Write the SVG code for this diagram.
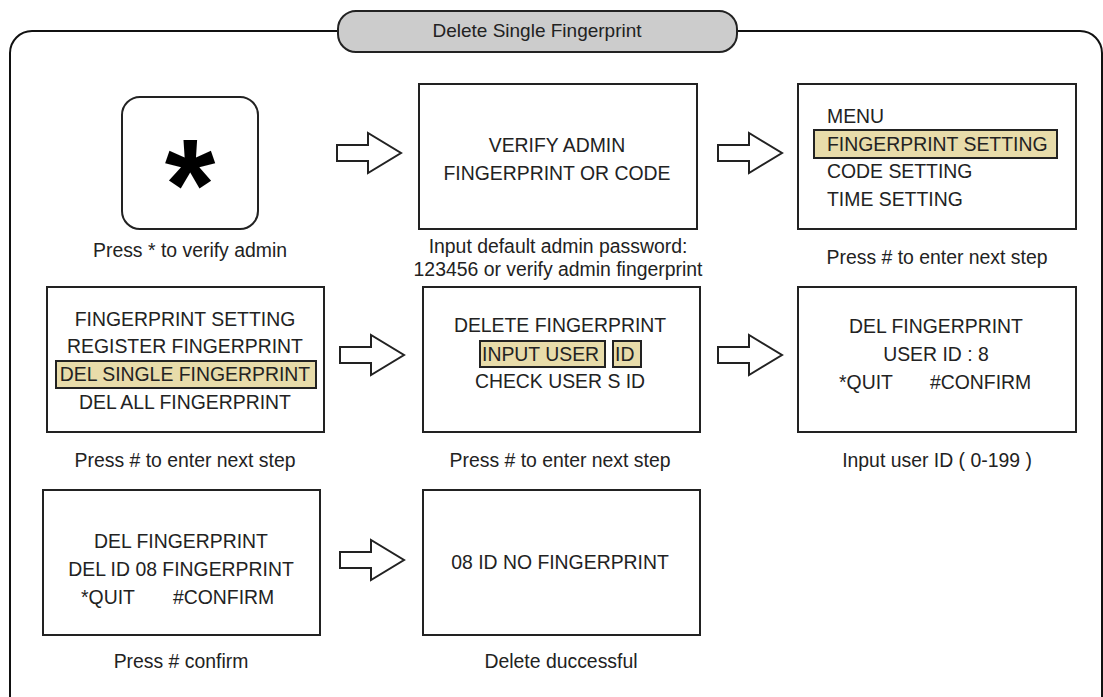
<svg xmlns="http://www.w3.org/2000/svg" xmlns:xlink="http://www.w3.org/1999/xlink" width="1103" height="697" viewBox="0 0 1103 697">
<style>
.box{fill:#fff;stroke:#222;stroke-width:2}
.hl{fill:#e8dcaa;stroke:#222;stroke-width:2}
.t{font-family:"Liberation Sans",Arial,sans-serif;font-size:19.4px;fill:#222}
.c{text-anchor:middle}
.arr{fill:#fff;stroke:#222;stroke-width:2;stroke-linejoin:miter}
</style>
<defs>
<path id="arrow" class="arr" d="M0,-8 H31 V-20 L64,0 L31,20 V8 H0 Z"/>
</defs>
<rect width="1103" height="697" fill="#fff"/>
<g id="frame">
<rect x="10" y="31" width="1092" height="690" rx="22" fill="none" stroke="#111" stroke-width="2"/>
</g>
<g id="title">
<rect x="338" y="11" width="399" height="41" rx="18" fill="#cccccc" stroke="#222" stroke-width="2"/>
<text class="t c" x="537" y="37" style="font-size:19px">Delete Single Fingerprint</text>
</g>
<g id="connectors">
<use xlink:href="#arrow" transform="translate(337,153)"/>
<use xlink:href="#arrow" transform="translate(718,153)"/>
<use xlink:href="#arrow" transform="translate(340,355)"/>
<use xlink:href="#arrow" transform="translate(718,355)"/>
<use xlink:href="#arrow" transform="translate(340,560)"/>
</g>
<g id="n1">
<rect class="box" x="122" y="97" width="136" height="132" rx="18"/>
<text x="190" y="230" text-anchor="middle" font-family="Liberation Sans,Arial,sans-serif" font-weight="bold" font-size="130" fill="#000">*</text>
<text class="t c" x="190" y="257">Press * to verify admin</text>
</g>
<g id="n2">
<rect class="box" x="419" y="84" width="278" height="145"/>
<text class="t c" x="557" y="152">VERIFY ADMIN</text>
<text class="t c" x="557" y="180">FINGERPRINT OR CODE</text>
<text class="t c" x="558" y="253">Input default admin password:</text>
<text class="t c" x="558" y="276">123456 or verify admin fingerprint</text>
</g>
<g id="n3">
<rect class="box" x="798" y="84" width="278" height="145"/>
<rect class="hl" x="814" y="130" width="243" height="28"/>
<text class="t" x="827" y="123">MENU</text>
<text class="t" x="827" y="151">FINGERPRINT SETTING</text>
<text class="t" x="827" y="178">CODE SETTING</text>
<text class="t" x="827" y="206">TIME SETTING</text>
<text class="t c" x="937" y="264">Press # to enter next step</text>
</g>
<g id="n4">
<rect class="box" x="47" y="287" width="277" height="145"/>
<rect class="hl" x="56" y="361" width="260" height="27"/>
<text class="t c" x="185" y="326">FINGERPRINT SETTING</text>
<text class="t c" x="185" y="353">REGISTER FINGERPRINT</text>
<text class="t c" x="185" y="381">DEL SINGLE FINGERPRINT</text>
<text class="t c" x="185" y="409">DEL ALL FINGERPRINT</text>
<text class="t c" x="185" y="467">Press # to enter next step</text>
</g>
<g id="n5">
<rect class="box" x="423" y="287" width="277" height="145"/>
<rect class="hl" x="480" y="341" width="125" height="26"/>
<rect class="hl" x="613" y="341" width="28" height="26"/>
<text class="t c" x="560" y="332">DELETE FINGERPRINT</text>
<text class="t" x="482" y="361">INPUT USER</text>
<text class="t" x="615" y="361">ID</text>
<text class="t c" x="560" y="388">CHECK USER S ID</text>
<text class="t c" x="560" y="467">Press # to enter next step</text>
</g>
<g id="n6">
<rect class="box" x="798" y="287" width="278" height="145"/>
<text class="t c" x="936" y="333">DEL FINGERPRINT</text>
<text class="t c" x="936" y="361">USER ID : 8</text>
<text class="t" x="839" y="389">*QUIT</text>
<text class="t" x="930" y="389">#CONFIRM</text>
<text class="t c" x="937" y="467">Input user ID ( 0-199 )</text>
</g>
<g id="n7">
<rect class="box" x="43" y="490" width="277" height="145"/>
<text class="t c" x="181" y="548">DEL FINGERPRINT</text>
<text class="t c" x="181" y="576">DEL ID 08 FINGERPRINT</text>
<text class="t" x="81" y="604">*QUIT</text>
<text class="t" x="173" y="604">#CONFIRM</text>
<text class="t c" x="181" y="668">Press # confirm</text>
</g>
<g id="n8">
<rect class="box" x="423" y="490" width="277" height="145"/>
<text class="t c" x="560" y="569">08 ID NO FINGERPRINT</text>
<text class="t c" x="561" y="668">Delete duccessful</text>
</g>
</svg>
